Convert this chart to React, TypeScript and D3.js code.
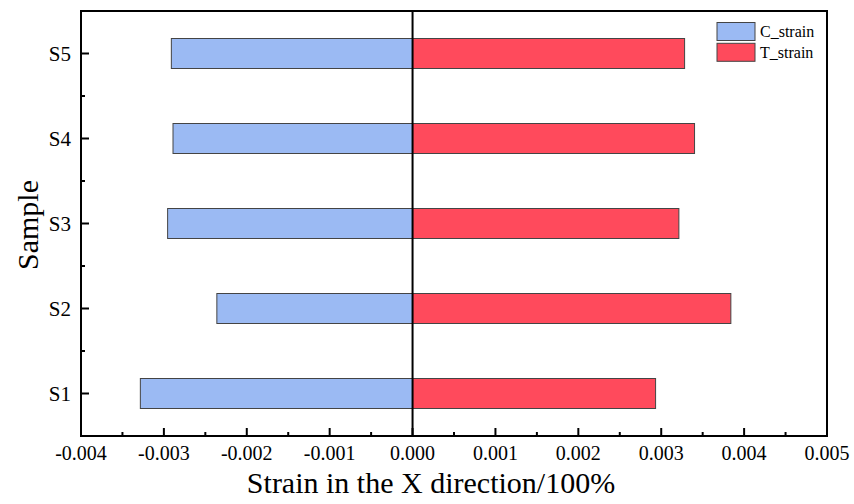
import React from "react";
import * as d3 from "d3";

const samples = ["S1", "S2", "S3", "S4", "S5"];
const cStrain = [-0.003284, -0.002361, -0.002955, -0.00289, -0.00291];
const tStrain = [0.002932, 0.00384, 0.003213, 0.003402, 0.003282];
const xTicks = [-0.004, -0.003, -0.002, -0.001, 0, 0.001, 0.002, 0.003, 0.004, 0.005];
const seriesNames = ["C_strain", "T_strain"];
const colors = ["#9bbaf3", "#ff4a5c"];

const W = 854, H = 504;
const m = { left: 81, right: 27, top: 11, bottom: 68 };
const FONT = "'Liberation Serif', 'Times New Roman', serif";

export default function App() {
  const x = d3.scaleLinear().domain([-0.004, 0.005]).range([m.left, W - m.right]);
  const y = d3.scaleLinear().domain([0.5, 5.5]).range([H - m.bottom, m.top]);
  const barH = 30;
  const minorX = d3.range(-0.004, 0.0050001, 0.0005).filter((v) => !xTicks.some((t) => Math.abs(t - v) < 1e-9));
  const minorY = d3.range(1.5, 5, 1);
  const fmt = (v: number) => d3.format(".3f")(v).replace("\u2212", "-");
  const x0 = x(0);
  const bottom = H - m.bottom;

  return (
    <svg width={W} height={H} style={{ position: "absolute", left: 0, top: 0, background: "#fff" }} fontFamily={FONT}>
      {samples.map((s, i) => {
        const yc = y(i + 1);
        return (
          <g key={s}>
            <rect x={x(cStrain[i])} y={yc - barH / 2} width={x0 - x(cStrain[i])} height={barH}
              fill={colors[0]} stroke="#444" strokeWidth={1} />
            <rect x={x0} y={yc - barH / 2} width={x(tStrain[i]) - x0} height={barH}
              fill={colors[1]} stroke="#444" strokeWidth={1} />
          </g>
        );
      })}
      <line x1={x0} x2={x0} y1={m.top} y2={bottom} stroke="#000" strokeWidth={2} />
      <rect x={m.left} y={m.top} width={W - m.right - m.left} height={bottom - m.top}
        fill="none" stroke="#000" strokeWidth={2} />
      {xTicks.map((t) => (
        <g key={t}>
          <line x1={x(t)} x2={x(t)} y1={bottom} y2={bottom - 8} stroke="#000" strokeWidth={2} />
          <text x={x(t)} y={460} textAnchor="middle" fontSize={20} fill="#000">{fmt(t)}</text>
        </g>
      ))}
      {minorX.map((t) => (
        <line key={t} x1={x(t)} x2={x(t)} y1={bottom} y2={bottom - 4} stroke="#000" strokeWidth={2} />
      ))}
      {samples.map((s, i) => (
        <g key={s}>
          <line x1={m.left} x2={m.left + 8} y1={y(i + 1)} y2={y(i + 1)} stroke="#000" strokeWidth={2} />
          <text x={71} y={y(i + 1) + 7} textAnchor="end" fontSize={21} fill="#000">{s}</text>
        </g>
      ))}
      {minorY.map((v) => (
        <line key={v} x1={m.left} x2={m.left + 4} y1={y(v)} y2={y(v)} stroke="#000" strokeWidth={2} />
      ))}
      <text x={431} y={493} textAnchor="middle" fontSize={30} fill="#000">Strain in the X direction/100%</text>
      <text transform={`translate(38,225) rotate(-90)`} textAnchor="middle" fontSize={30} fill="#000">Sample</text>
      {seriesNames.map((n, i) => (
        <g key={n}>
          <rect x={717} y={22.5 + i * 20.8} width={38} height={18} fill={colors[i]} stroke="#444" strokeWidth={1} />
          <text x={760} y={37 + i * 21} fontSize={16} fill="#000">{n}</text>
        </g>
      ))}
    </svg>
  );
}
